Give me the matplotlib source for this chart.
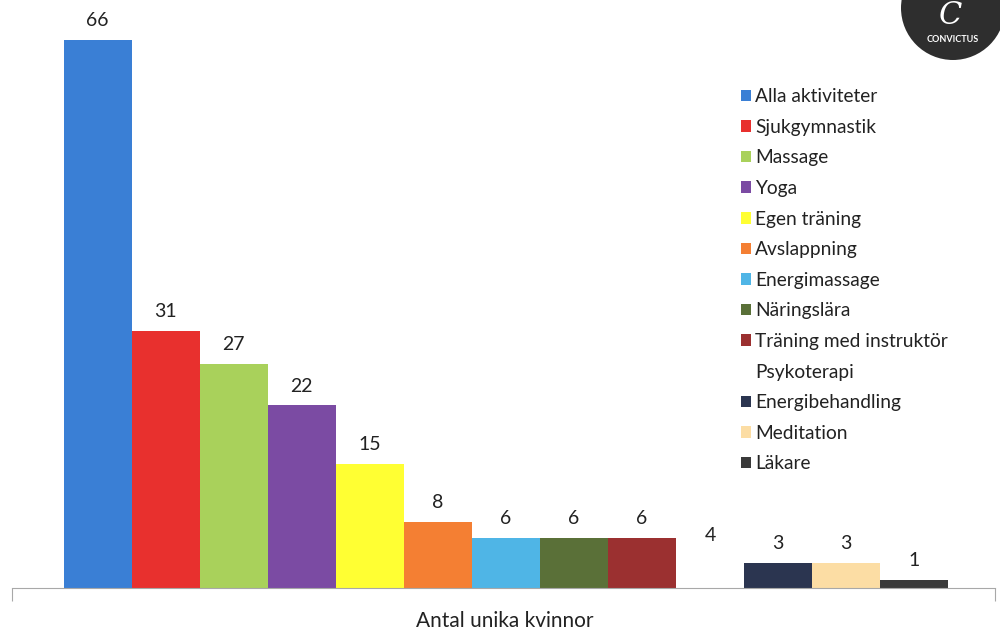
import matplotlib
matplotlib.use("Agg")
import matplotlib.pyplot as plt
from matplotlib.patches import Ellipse

categories = ["Alla aktiviteter", "Sjukgymnastik", "Massage", "Yoga", "Egen träning",
              "Avslappning", "Energimassage", "Näringslära", "Träning med instruktör",
              "Psykoterapi", "Energibehandling", "Meditation", "Läkare"]
values = [66, 31, 27, 22, 15, 8, 6, 6, 6, 4, 3, 3, 1]
colors = ["#3A7FD5", "#E8302E", "#A9D15B", "#7B4BA3", "#FFFF33", "#F47F33", "#4FB5E6",
          "#5A7038", "#9B3030", "#FFFFFF", "#2B3550", "#FCDDA4", "#3A3A3A"]
xlabel = "Antal unika kvinnor"

plt.rcParams['font.family'] = ['Lato', 'DejaVu Sans']

fig = plt.figure(figsize=(10, 6.34), dpi=100)
ax = fig.add_axes([0.012, 46/634, 0.983, (588-7)/634])

handles = []
for i, (c, v, col) in enumerate(zip(categories, values, colors)):
    b = ax.bar(i, v, width=1.0, color=col, label=c, edgecolor='none')
    handles.append(b)
    ax.text(i, v + 1.3, str(v), ha='center', va='bottom', fontsize=14, color='#222222')

xmin, xmax = -1.26, 13.19
ax.set_xlim(xmin, xmax)
ax.set_ylim(0, 70)
for s in ['top', 'right', 'left']:
    ax.spines[s].set_visible(False)
ax.spines['bottom'].set_color('#A8A8A8')
ax.set_yticks([])
ax.set_xticks([xmin, xmax])
ax.set_xticklabels(['', ''])
ax.tick_params(axis='x', direction='out', length=9, color='#A8A8A8')
fig.text(505/1000, (634-621)/634, xlabel, fontsize=15, color='#222222',
         ha='center', va='center')

leg = ax.legend(handles=handles, loc='upper left', bbox_to_anchor=(0.733, 0.873),
                bbox_transform=fig.transFigure, frameon=False, fontsize=13.8,
                handlelength=0.55, handleheight=0.55, handletextpad=0.22,
                labelspacing=0.71, borderaxespad=0)
for t in leg.get_texts():
    t.set_color('#222222')

# logo
logo = Ellipse((953/1000, (634-8)/634), 104/1000, 104/634, transform=fig.transFigure,
               facecolor='#2E2E2E', edgecolor='none', zorder=5)
fig.patches.append(logo)
fig.text(953/1000, (634-40)/634, "CONVICTUS", color='white', fontsize=6.5, fontweight='bold',
         ha='center', va='center', zorder=6)
fig.text(950/1000, (634-16)/634, "C", color='white', fontsize=22, family='DejaVu Serif',
         style='italic', ha='center', va='center', zorder=6)

fig.savefig("out.png", dpi=100)
